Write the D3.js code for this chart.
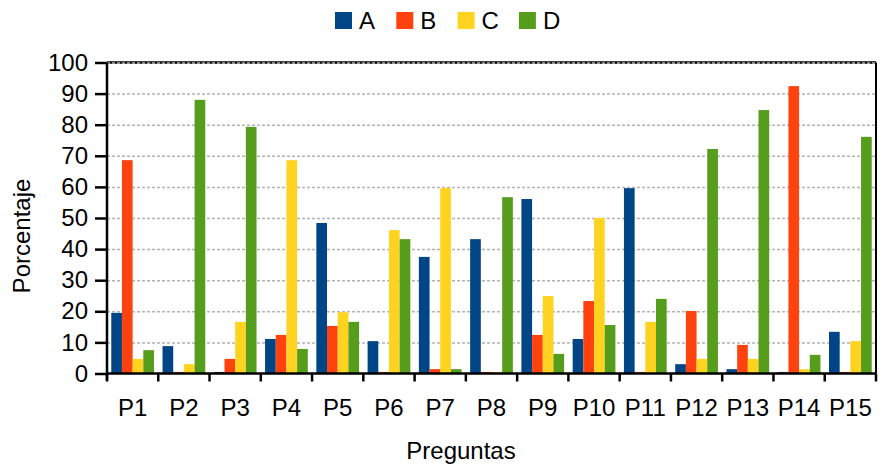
<!DOCTYPE html>
<html><head><meta charset="utf-8">
<script src="https://cdn.jsdelivr.net/npm/d3@7/dist/d3.min.js"></script>
<style>
html,body{margin:0;padding:0;background:#fff;}
text{font-family:"Liberation Sans",Arial,sans-serif;fill:#000;}
</style></head><body>
<svg id="c" width="882" height="466"></svg>
<script>
const categories = ["P1","P2","P3","P4","P5","P6","P7","P8","P9","P10","P11","P12","P13","P14","P15"];
const seriesNames = ["A","B","C","D"];
const seriesA = [19.5, 8.8, 0.5, 11.1, 48.4, 10.4, 37.5, 43.2, 56.1, 11.1, 59.6, 3.0, 1.4, 0.5, 13.4];
const seriesB = [68.6, 0.5, 4.7, 12.4, 15.3, 0.5, 1.4, 0.5, 12.4, 23.3, 0.5, 20.1, 9.2, 92.4, 0.5];
const seriesC = [4.7, 3.0, 16.6, 68.6, 19.7, 46.1, 59.6, 0.5, 24.9, 50.0, 16.6, 4.7, 4.7, 1.4, 10.4];
const seriesD = [7.5, 88.0, 79.3, 7.9, 16.6, 43.2, 1.4, 56.7, 6.3, 15.6, 24.0, 72.2, 84.7, 6.0, 76.1];
const yTicks = [0,10,20,30,40,50,60,70,80,90,100];
const colors = ["#004586","#ff420e","#ffd320","#579d1c"];

const svg = d3.select("#c");
const L = 107, R = 876, T = 62.5, B = 373.5;
const FS = 24;
const x = d3.scaleBand().domain(categories).range([L, R]).paddingInner(0).paddingOuter(0);
const xs = d3.scaleBand().domain(seriesNames).range([0, x.bandwidth()]).paddingInner(0).paddingOuter(0.4);
const y = d3.scaleLinear().domain([0,100]).range([B, T]);
const allSeries = [seriesA, seriesB, seriesC, seriesD];

// top border
svg.append("line").attr("x1",L).attr("x2",R).attr("y1",y(100)).attr("y2",y(100))
  .attr("stroke","#000").attr("stroke-width",2.5);

// gridlines
const grid = svg.append("g").attr("transform", `translate(${L},0)`)
  .call(d3.axisLeft(y).tickValues(yTicks.filter(v=>v>0)).tickSize(-(R-L)).tickFormat(""));
grid.select(".domain").remove();
grid.selectAll("line").attr("stroke","#b3b3b3").attr("stroke-width",1.5).attr("stroke-dasharray","3,2");

// right border
svg.append("line").attr("x1",R).attr("x2",R).attr("y1",T).attr("y2",B).attr("stroke","#000").attr("stroke-width",2);

// bars
const groups = svg.append("g").selectAll("g").data(categories).join("g")
  .attr("transform", d => `translate(${x(d)},0)`);
groups.selectAll("rect").data((d,i) => seriesNames.map((s,j) => ({s, v: allSeries[j][i], c: colors[j]})))
  .join("rect")
  .attr("x", d => xs(d.s)).attr("width", xs.bandwidth())
  .attr("y", d => y(d.v)).attr("height", d => B - y(d.v))
  .attr("fill", d => d.c);

// y axis
const ya = svg.append("g").attr("transform", `translate(${L},0)`)
  .call(d3.axisLeft(y).tickValues(yTicks).tickSize(12).tickPadding(7));
ya.select(".domain").attr("stroke","#000").attr("stroke-width",2.5).attr("d", `M0,${T}V${B+7}`);
ya.selectAll(".tick line").attr("stroke","#000").attr("stroke-width",2.5);
ya.selectAll("text").attr("font-size",FS).style("font-family","Liberation Sans, Arial, sans-serif");

// x axis
const xa = svg.append("g").attr("transform", `translate(0,${B})`)
  .call(d3.axisBottom(x).tickSize(0).tickPadding(25));
xa.select(".domain").attr("stroke","#000").attr("stroke-width",2.5).attr("d", `M${L},0H${R}`);
xa.selectAll("text").attr("font-size",FS).style("font-family","Liberation Sans, Arial, sans-serif");
const bounds = categories.map(c => x(c)).concat([x(categories[categories.length-1]) + x.bandwidth()]);
xa.selectAll(".btick").data(bounds).join("line").attr("class","btick")
  .attr("x1", d => d).attr("x2", d => d).attr("y1", 0).attr("y2", 8)
  .attr("stroke","#000").attr("stroke-width",2.5);

// axis titles
svg.append("text").attr("x", 461).attr("y", 459).attr("text-anchor","middle")
  .attr("font-size",FS).text("Preguntas");
svg.append("text").attr("transform", `translate(30,236) rotate(-90)`).attr("text-anchor","middle")
  .attr("font-size",FS).text("Porcentaje");

// legend
const lg = svg.append("g").selectAll("g").data(seriesNames).join("g")
  .attr("transform", (d,i) => `translate(${335 + i*61.3},12)`);
lg.append("rect").attr("width",17).attr("height",17).attr("fill",(d,i)=>colors[i]);
lg.append("text").attr("x",24).attr("y",17).attr("font-size",FS).text(d=>d);
</script>
</body></html>
